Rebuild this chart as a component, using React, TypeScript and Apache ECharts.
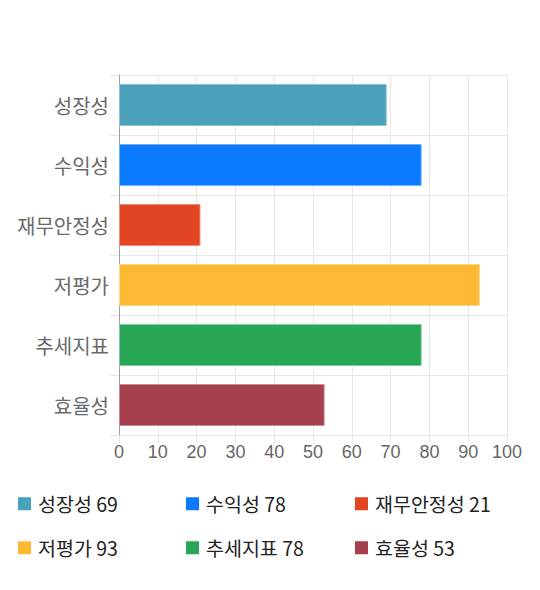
import React, { useEffect, useRef } from 'react';
import * as echarts from 'echarts';

const categories = ['성장성', '수익성', '재무안정성', '저평가', '추세지표', '효율성'];
const scores = [69, 78, 21, 93, 78, 53];
const colors = ['#4aa1b9', '#0a7bff', '#e24524', '#feb933', '#28a655', '#a6404e'];
const borders = ['#8ec3d3', '#6cb0ff', '#ee8d79', '#fed78a', '#7dca9b', '#ca8c95'];
const xTicks = [0, 100, 10];

const legendCols = [13, 181, 350];
const legendRows = [489, 533];

const FONT = '"Noto Sans CJK KR", "Noto Sans", sans-serif';

const App: React.FC = () => {
  const chartRef = useRef<HTMLDivElement>(null);

  useEffect(() => {
    document.body.style.margin = '0';
    if (!chartRef.current) return;
    const chart = echarts.init(chartRef.current, null, { renderer: 'svg' });

    const series = categories.map((name, i) => ({
      name,
      type: 'bar' as const,
      stack: 'all',
      barWidth: '70%',
      data: scores.map((v, j) => (j === i ? v : '-')),
      itemStyle: { color: colors[i], borderColor: borders[i], borderWidth: 1 },
      emphasis: { disabled: true },
    }));

    const legends = categories.map((name, i) => ({
      data: [name],
      left: legendCols[i % 3],
      top: legendRows[Math.floor(i / 3)],
      itemWidth: 13,
      itemHeight: 13,
      icon: 'rect',
      selectedMode: false,
      itemStyle: { borderWidth: 0 },
      formatter: (n: string) => `${n} ${scores[categories.indexOf(n)]}`,
      textStyle: {
        color: '#222',
        fontSize: 19.5,
        fontFamily: FONT,
        padding: [0, 0, 0, 2],
      },
    }));

    chart.setOption({
      animation: false,
      backgroundColor: '#ffffff',
      textStyle: { fontFamily: FONT },
      grid: { left: 119, right: 33, top: 75, bottom: 155, containLabel: false },
      legend: legends,
      xAxis: {
        type: 'value',
        min: xTicks[0],
        max: xTicks[1],
        interval: xTicks[2],
        axisLine: { show: true, lineStyle: { color: '#e6e6e6' } },
        axisTick: { show: true, length: 8, lineStyle: { color: '#e6e6e6' } },
        axisLabel: { color: '#666', fontSize: 18, margin: 8, fontFamily: '"Liberation Sans", Arial, sans-serif' },
        splitLine: { show: true, lineStyle: { color: '#e8e8e8' } },
      },
      yAxis: {
        type: 'category',
        inverse: true,
        data: categories,
        axisLine: { show: true, lineStyle: { color: '#a0a0a0' } },
        axisTick: { show: true, length: 9, lineStyle: { color: '#e6e6e6' } },
        axisLabel: { color: '#6a6a6a', fontSize: 20, margin: 10, fontFamily: FONT },
        splitLine: { show: true, lineStyle: { color: '#e8e8e8' } },
      },
      series,
    });

    return () => {
      chart.dispose();
    };
  }, []);

  return <div ref={chartRef} style={{ width: '540px', height: '590px' }} />;
};

export default App;
